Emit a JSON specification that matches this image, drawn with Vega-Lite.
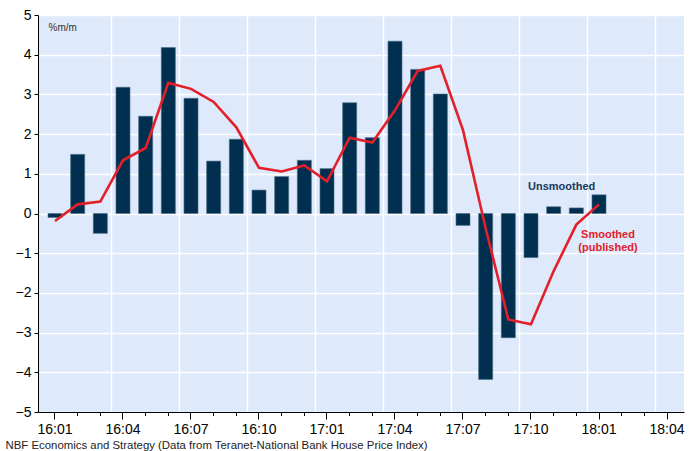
{
  "$schema": "https://vega.github.io/schema/vega-lite/v6.json",
  "autosize": {"type": "none"},
  "width": 646,
  "height": 397,
  "padding": {"left": 38, "top": 15, "right": 7, "bottom": 39},
  "background": "white",
  "config": {
    "font": "Liberation Sans",
    "view": {"fill": "#DEE9FB", "stroke": null}
  },
  "datasets": {
    "bars": [
      {"month": "16:01", "value": -0.1},
      {"month": "16:02", "value": 1.49},
      {"month": "16:03", "value": -0.5},
      {"month": "16:04", "value": 3.18},
      {"month": "16:05", "value": 2.45},
      {"month": "16:06", "value": 4.18},
      {"month": "16:07", "value": 2.9},
      {"month": "16:08", "value": 1.32},
      {"month": "16:09", "value": 1.87},
      {"month": "16:10", "value": 0.59},
      {"month": "16:11", "value": 0.93},
      {"month": "16:12", "value": 1.34},
      {"month": "17:01", "value": 1.13},
      {"month": "17:02", "value": 2.79},
      {"month": "17:03", "value": 1.91},
      {"month": "17:04", "value": 4.34},
      {"month": "17:05", "value": 3.63},
      {"month": "17:06", "value": 3.01},
      {"month": "17:07", "value": -0.3},
      {"month": "17:08", "value": -4.18},
      {"month": "17:09", "value": -3.13},
      {"month": "17:10", "value": -1.11},
      {"month": "17:11", "value": 0.17},
      {"month": "17:12", "value": 0.14},
      {"month": "18:01", "value": 0.47}
    ],
    "smooth": [
      {"month": "16:01", "value": -0.19},
      {"month": "16:02", "value": 0.23},
      {"month": "16:03", "value": 0.3},
      {"month": "16:04", "value": 1.34},
      {"month": "16:05", "value": 1.65},
      {"month": "16:06", "value": 3.29},
      {"month": "16:07", "value": 3.14},
      {"month": "16:08", "value": 2.81},
      {"month": "16:09", "value": 2.17},
      {"month": "16:10", "value": 1.15},
      {"month": "16:11", "value": 1.06},
      {"month": "16:12", "value": 1.21},
      {"month": "17:01", "value": 0.81},
      {"month": "17:02", "value": 1.91},
      {"month": "17:03", "value": 1.79},
      {"month": "17:04", "value": 2.6},
      {"month": "17:05", "value": 3.59},
      {"month": "17:06", "value": 3.72},
      {"month": "17:07", "value": 2.1},
      {"month": "17:08", "value": -0.37},
      {"month": "17:09", "value": -2.67},
      {"month": "17:10", "value": -2.79},
      {"month": "17:11", "value": -1.45},
      {"month": "17:12", "value": -0.28},
      {"month": "18:01", "value": 0.23}
    ],
    "notes": [
      {"month": "17:11", "value": 0.67, "label": "Unsmoothed", "series": "Unsmoothed"},
      {"month": "18:01", "value": -0.53, "label": "Smoothed\n(published)", "series": "Smoothed"}
    ]
  },
  "encoding": {
    "y": {
      "field": "value",
      "type": "quantitative",
      "scale": {"domain": [-5, 5], "nice": false, "zero": false},
      "axis": {
        "values": [-5, -4, -3, -2, -1, 0, 1, 2, 3, 4, 5],
        "title": "%m/m",
        "titleAngle": 0,
        "titleX": 10,
        "titleY": 12,
        "titleAlign": "left",
        "titleBaseline": "middle",
        "titleFontSize": 10,
        "titleFontWeight": "normal",
        "titleColor": "#333333",
        "labelFontSize": 14,
        "labelColor": "#000000",
        "labelPadding": 3,
        "tickSize": 4,
        "tickColor": "#000000",
        "domainColor": "#000000",
        "domainWidth": 1,
        "grid": true,
        "gridColor": "#FFFFFF",
        "gridWidth": 1.5
      }
    }
  },
  "resolve": {"axis": {"x": "independent"}},
  "layer": [
    {
      "data": {"name": "bars"},
      "mark": {"type": "bar", "color": "#012F4F", "width": {"band": 0.62}, "stroke": "#4F6F8A", "strokeWidth": 0.6},
      "encoding": {
        "x": {
          "field": "month",
          "type": "ordinal",
          "scale": {
            "domain": ["16:01","16:02","16:03","16:04","16:05","16:06","16:07","16:08","16:09","16:10","16:11","16:12",
                       "17:01","17:02","17:03","17:04","17:05","17:06","17:07","17:08","17:09","17:10","17:11","17:12",
                       "18:01","18:02","18:03","18:04"],
            "paddingInner": 0,
            "paddingOuter": 0.25
          },
          "axis": {
            "title": "NBF Economics and Strategy (Data from Teranet-National Bank House Price Index)",
            "titleX": -33,
            "titleY": 33,
            "titleAlign": "left",
            "titleAnchor": "start",
            "titleBaseline": "middle",
            "titleFontSize": 11.4,
            "titleFontWeight": "normal",
            "titleColor": "#222222",
            "labelAngle": 0,
            "labelFontSize": 14,
            "labelColor": "#000000",
            "labelPadding": 3,
            "labelExpr": "indexof(['01','04','07','10'], slice(datum.value, 3)) >= 0 ? datum.value : ''",
            "tickColor": "#000000",
            "tickSize": {"condition": {"test": "indexof(['01','04','07','10'], slice(datum.value, 3)) >= 0", "value": 7}, "value": 3.5},
            "domainColor": "#000000",
            "domainWidth": 1,
            "grid": false
          }
        }
      }
    },
    {
      "mark": {"type": "rule", "color": "#000000", "strokeWidth": 1},
      "encoding": {"y": {"datum": 0, "type": "quantitative"}}
    },
    {
      "data": {"name": "smooth"},
      "mark": {"type": "line", "color": "#E3202A", "strokeWidth": 2.6},
      "encoding": {
        "x": {
          "field": "month",
          "type": "ordinal",
          "axis": {
            "orient": "top",
            "values": ["16:04","16:07","16:10","17:01","17:04","17:07","17:10","18:01","18:04"],
            "bandPosition": 0,
            "grid": true,
            "gridColor": "#FFFFFF",
            "gridWidth": 1.5,
            "labels": false,
            "ticks": false,
            "domain": false,
            "title": null
          }
        }
      }
    },
    {
      "data": {"name": "notes"},
      "transform": [{"filter": "datum.series == 'Unsmoothed'"}],
      "mark": {"type": "text", "align": "center", "baseline": "middle", "dx": 8, "fontSize": 11, "fontWeight": "bold", "color": "#1B3A5C"},
      "encoding": {
        "x": {"field": "month", "type": "ordinal", "axis": null},
        "text": {"field": "label"}
      }
    },
    {
      "data": {"name": "notes"},
      "transform": [{"filter": "datum.series == 'Smoothed'"}],
      "mark": {"type": "text", "align": "center", "baseline": "middle", "dx": 9, "fontSize": 11, "fontWeight": "bold", "color": "#E3202A", "lineBreak": "\n", "lineHeight": 13},
      "encoding": {
        "x": {"field": "month", "type": "ordinal", "axis": null},
        "text": {"field": "label"}
      }
    }
  ]
}
